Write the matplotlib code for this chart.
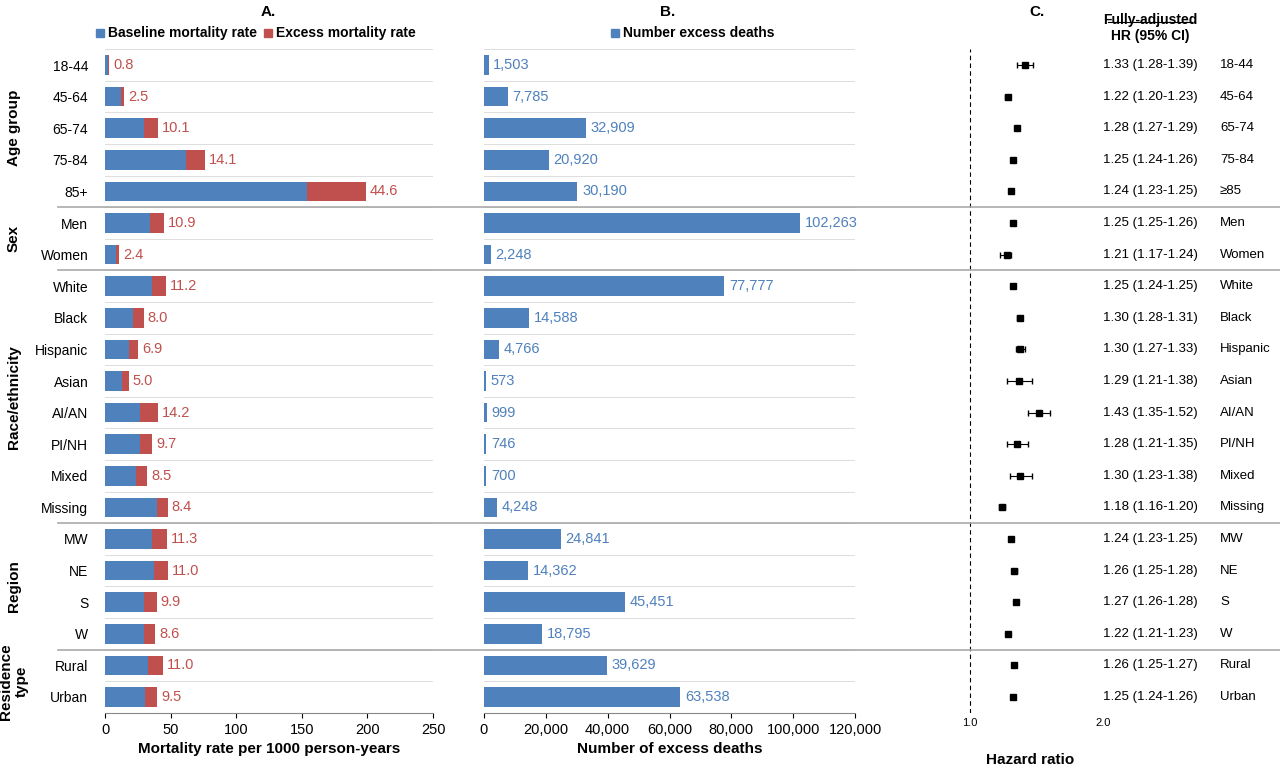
import matplotlib.pyplot as plt
import numpy as np
from matplotlib.lines import Line2D

plt.rcParams['font.family'] = ['Calibri', 'Liberation Sans', 'DejaVu Sans']

categories = ["18-44", "45-64", "65-74", "75-84", "85+", "Men", "Women",
              "White", "Black", "Hispanic", "Asian", "AI/AN", "PI/NH", "Mixed", "Missing",
              "MW", "NE", "S", "W", "Rural", "Urban"]
c_labels = ["18-44", "45-64", "65-74", "75-84", "\u226585", "Men", "Women",
            "White", "Black", "Hispanic", "Asian", "AI/AN", "PI/NH", "Mixed", "Missing",
            "MW", "NE", "S", "W", "Rural", "Urban"]
baseline = [2.3, 12, 30, 62, 154, 34, 8.5, 35.5, 21.5, 18.5, 13, 26.5, 26.5, 23.5, 39.5,
            36, 37, 29.5, 29.5, 33, 30.5]
excess = [0.8, 2.5, 10.1, 14.1, 44.6, 10.9, 2.4, 11.2, 8.0, 6.9, 5.0, 14.2, 9.7, 8.5, 8.4,
          11.3, 11.0, 9.9, 8.6, 11.0, 9.5]
deaths = [1503, 7785, 32909, 20920, 30190, 102263, 2248, 77777, 14588, 4766, 573, 999, 746,
          700, 4248, 24841, 14362, 45451, 18795, 39629, 63538]
hr = [1.33, 1.22, 1.28, 1.25, 1.24, 1.25, 1.21, 1.25, 1.30, 1.30, 1.29, 1.43, 1.28, 1.30,
      1.18, 1.24, 1.26, 1.27, 1.22, 1.26, 1.25]
hr_lo = [1.28, 1.20, 1.27, 1.24, 1.23, 1.25, 1.17, 1.24, 1.28, 1.27, 1.21, 1.35, 1.21, 1.23,
         1.16, 1.23, 1.25, 1.26, 1.21, 1.25, 1.24]
hr_hi = [1.39, 1.23, 1.29, 1.26, 1.25, 1.26, 1.24, 1.25, 1.31, 1.33, 1.38, 1.52, 1.35, 1.38,
         1.20, 1.25, 1.28, 1.28, 1.23, 1.27, 1.26]
groups = [("Age group", 0, 4), ("Sex", 5, 6), ("Race/ethnicity", 7, 14), ("Region", 15, 18),
          ("Residence\ntype", 19, 20)]

BLUE = "#4f81bd"
RED = "#c0504d"
W, H = 1280, 767
n = len(categories)
y = np.arange(n)
# 21 rows from y=65 to y=697 px
step = (697 - 65) / (n - 1)
top, bot = 65 - step / 2, 697 + step / 2

fig = plt.figure(figsize=(12.8, 7.67), dpi=100)

def add_ax(x0, x1):
    return fig.add_axes([x0 / W, 1 - bot / H, (x1 - x0) / W, (bot - top) / H])

axA = add_ax(105, 433)
axB = add_ax(484, 855)
axC = add_ax(930, 1130)

for ax in (axA, axB, axC):
    ax.set_ylim(n - 0.5, -0.5)
    for s in ("top", "right", "left"):
        ax.spines[s].set_visible(False)
    ax.tick_params(axis='y', length=0)
    ax.tick_params(axis='x', labelsize=10.5)

# Panel A
axA.barh(y, baseline, height=0.62, color=BLUE)
axA.barh(y, excess, left=baseline, height=0.62, color=RED)
for i in range(n):
    axA.text(baseline[i] + excess[i] + 3, i, f"{excess[i]:.1f}", color=RED, va='center', fontsize=10.5)
axA.set_xlim(0, 250)
axA.set_xticks(range(0, 251, 50))
axA.set_yticks(y)
axA.set_yticklabels(categories, fontsize=10)
axA.tick_params(axis='y', pad=12)
axA.set_xlabel("Mortality rate per 1000 person-years", fontweight='bold', fontsize=11)
axA.spines['bottom'].set_color('#888888')

# Panel B
axB.barh(y, deaths, height=0.62, color=BLUE)
for i in range(n):
    axB.text(deaths[i] + 1500, i, f"{deaths[i]:,}", color=BLUE, va='center', fontsize=10.5)
axB.set_xlim(0, 120000)
axB.set_xticks(range(0, 120001, 20000))
axB.set_xticklabels([f"{v:,}" for v in range(0, 120001, 20000)])
axB.set_yticks([])
axB.set_xlabel("Number of excess deaths", fontweight='bold', fontsize=11)
axB.spines['bottom'].set_color('#888888')

for ax in (axA, axB):
    for b in np.arange(-0.5, n, 1):
        ax.axhline(b, color='#dddddd', lw=0.7, zorder=0)

# Panel C
axC.set_xscale('log')
axC.set_xlim(0.812, 2.30)
axC.errorbar(hr, y, xerr=[np.array(hr) - np.array(hr_lo), np.array(hr_hi) - np.array(hr)],
             fmt='s', color='black', ms=4, capsize=2, elinewidth=0.8)
axC.axvline(1.0, color='black', ls=(0, (4, 3)), lw=0.8)
axC.spines['bottom'].set_visible(False)
axC.set_yticks([])
axC.set_xticks([1.0, 2.0])
axC.set_xticklabels(["1.0", "2.0"], fontsize=8)
axC.xaxis.set_minor_locator(plt.NullLocator())
axC.tick_params(axis='x', length=0)
axC.set_xlabel("Hazard ratio", fontweight='bold', fontsize=11, labelpad=18)
for i in range(n):
    yy = (top + (i + 0.5) * step) 
    fy = 1 - (65 + i * step) / H
    fig.text(1150 / W, fy, f"{hr[i]:.2f} ({hr_lo[i]:.2f}-{hr_hi[i]:.2f})", ha='center', va='center', fontsize=9.5)
    fig.text(1220 / W, fy, c_labels[i], ha='left', va='center', fontsize=9.5)
fig.text(1150 / W, 1 - 28 / H, "Fully-adjusted\nHR (95% CI)", ha='center', va='center',
         fontsize=10, fontweight='bold')
fig.add_artist(Line2D([1108 / W, 1192 / W], [1 - 22 / H, 1 - 22 / H], color='black', lw=0.8))

# group separators and labels
for name, a, b in groups:
    fy = 1 - (65 + (a + b) / 2 * step) / H
    fig.text(14 / W, fy, name, rotation=90, ha='center', va='center', fontweight='bold', fontsize=11)
    if b < n - 1:
        sy = 1 - (65 + (b + 0.5) * step) / H
        fig.add_artist(Line2D([0.045, 1.0], [sy, sy], color='#aaaaaa', lw=1.2))

# titles and legends
for xt, t in [(268, "A."), (668, "B."), (1037, "C.")]:
    fig.text(xt / W, 1 - 12 / H, t, ha='center', va='center', fontweight='bold', fontsize=11)

def legend_item(x, label, color):
    fig.patches.append(plt.Rectangle((x / W, 1 - 37 / H), 8 / W, 8 / H, color=color,
                                     transform=fig.transFigure, figure=fig))
    fig.text((x + 12) / W, 1 - 33 / H, label, va='center', fontweight='bold', fontsize=10)

legend_item(96, "Baseline mortality rate", BLUE)
legend_item(264, "Excess mortality rate", RED)
legend_item(611, "Number excess deaths", BLUE)

fig.savefig("out.png", dpi=100)
